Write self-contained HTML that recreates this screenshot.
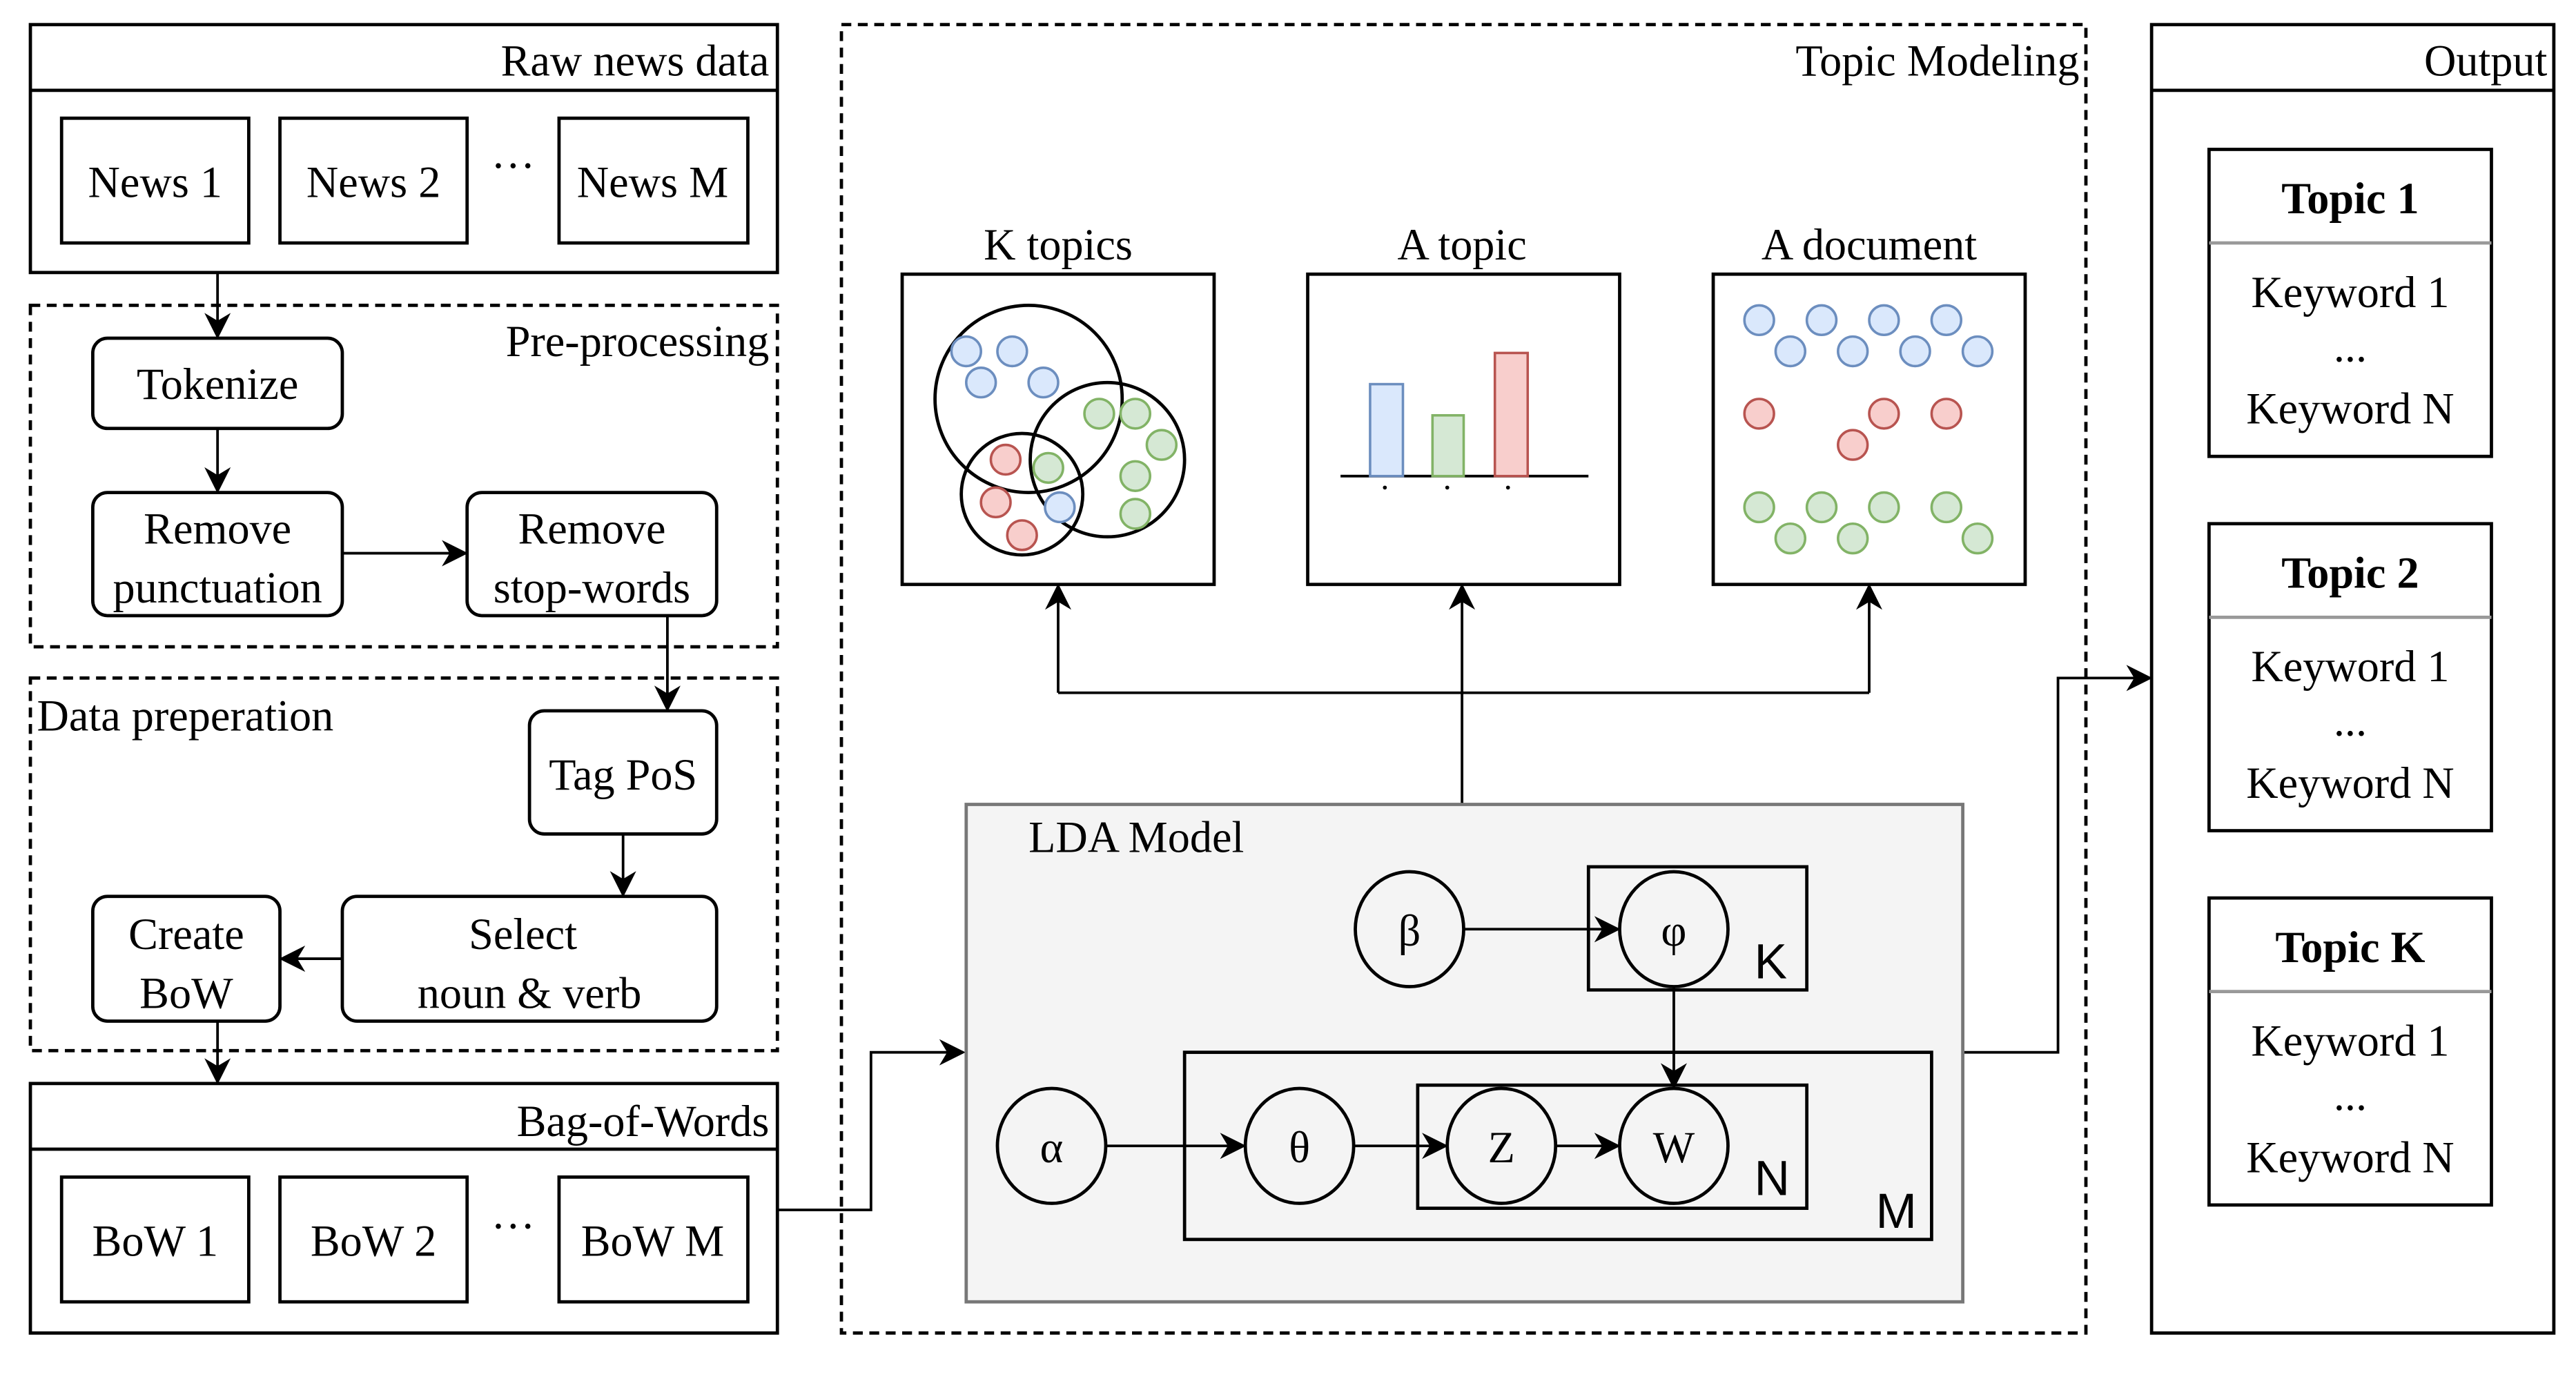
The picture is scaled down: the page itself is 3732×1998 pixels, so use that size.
<!DOCTYPE html>
<html><head><style>html,body{margin:0;padding:0;background:#fff}svg{display:block}
svg text{font-family:"Liberation Serif","Times New Roman",serif}
svg text.s{font-family:"Liberation Sans",Arial,sans-serif}</style></head>
<body>
<svg width="3732" height="1998" viewBox="0 0 1568 840" xmlns="http://www.w3.org/2000/svg" font-size="27">
<defs>
<marker id="b" viewBox="0 0 10 10" refX="9" refY="5" markerWidth="16" markerHeight="16" orient="auto" markerUnits="userSpaceOnUse"><path d="M0,0 L10,5 L0,10 L3,5 Z" fill="#000"/></marker>
</defs>
<g fill="none" stroke="#000" stroke-width="2">
<rect x="18" y="15" width="455" height="151"/><line x1="18" y1="55" x2="473" y2="55"/>
<rect x="37" y="72" width="114" height="76"/><rect x="170" y="72" width="114" height="76"/><rect x="340" y="72" width="115" height="76"/>
<rect x="18" y="186" width="455" height="208" stroke-dasharray="6,4"/>
<rect x="56" y="206" width="152" height="55" rx="9"/>
<rect x="56" y="300" width="152" height="75" rx="9"/>
<rect x="284" y="300" width="152" height="75" rx="9"/>
<rect x="18" y="413" width="455" height="227" stroke-dasharray="6,4"/>
<rect x="322" y="433" width="114" height="75" rx="9"/>
<rect x="208" y="546" width="228" height="76" rx="9"/>
<rect x="56" y="546" width="114" height="76" rx="9"/>
<rect x="18" y="660" width="455" height="152"/><line x1="18" y1="700" x2="473" y2="700"/>
<rect x="37" y="717" width="114" height="76"/><rect x="170" y="717" width="114" height="76"/><rect x="340" y="717" width="115" height="76"/>
<g marker-end="url(#b)" stroke-width="1.6">
<line x1="132" y1="166" x2="132" y2="205"/>
<line x1="132" y1="261" x2="132" y2="299"/>
<line x1="208" y1="337" x2="283" y2="337"/>
<line x1="406" y1="375" x2="406" y2="432"/>
<line x1="379" y1="508" x2="379" y2="545"/>
<line x1="208" y1="584" x2="171" y2="584"/>
<line x1="132" y1="622" x2="132" y2="659"/>
<polyline points="473,737 530,737 530,641 586,641"/>
<polyline points="1195,641 1253,641 1253,413 1309,413"/>
<line x1="890" y1="490" x2="890" y2="357"/>
<polyline points="644,422 644,357"/>
<polyline points="1138,422 1138,357"/>
</g>
<line x1="644" y1="422" x2="1138" y2="422" stroke-width="1.6"/>
<rect x="512" y="15" width="758" height="797" stroke-dasharray="6,4"/>
<rect x="549" y="167" width="190" height="189"/>
<rect x="796" y="167" width="190" height="189"/>
<rect x="1043" y="167" width="190" height="189"/>
<rect x="588" y="490" width="607" height="303" fill="#f4f4f4" stroke="#777"/>
<rect x="967" y="528" width="133" height="75"/>
<rect x="721" y="641" width="455" height="114"/>
<rect x="863" y="661" width="237" height="75"/>
<ellipse cx="858" cy="566" rx="33" ry="35"/>
<ellipse cx="1019" cy="566" rx="33" ry="35"/>
<ellipse cx="640" cy="698" rx="33" ry="35"/>
<ellipse cx="791" cy="698" rx="33" ry="35"/>
<ellipse cx="914" cy="698" rx="33" ry="35"/>
<ellipse cx="1019" cy="698" rx="33" ry="35"/>
<g marker-end="url(#b)" stroke-width="1.6">
<line x1="891" y1="566" x2="985" y2="566"/>
<line x1="1019" y1="601" x2="1019" y2="662"/>
<line x1="673" y1="698" x2="757" y2="698"/>
<line x1="824" y1="698" x2="880" y2="698"/>
<line x1="947" y1="698" x2="985" y2="698"/>
</g>
<rect x="1310" y="15" width="245" height="797"/><line x1="1310" y1="55" x2="1555" y2="55"/>
<rect x="1345" y="91" width="172" height="187"/><line x1="1345" y1="148" x2="1517" y2="148" stroke="#999"/>
<rect x="1345" y="319" width="172" height="187"/><line x1="1345" y1="376" x2="1517" y2="376" stroke="#999"/>
<rect x="1345" y="547" width="172" height="187"/><line x1="1345" y1="604" x2="1517" y2="604" stroke="#999"/>
<circle cx="626" cy="243" r="57"/><circle cx="674" cy="280" r="47"/><circle cx="622" cy="301" r="37"/>
<line x1="816" y1="290" x2="967" y2="290" stroke-width="1.6"/>
</g>
<g stroke-width="1.5">
<g fill="#dae8fc" stroke="#6c8ebf">
<circle cx="588" cy="214" r="9"/><circle cx="616" cy="214" r="9"/><circle cx="597" cy="233" r="9"/><circle cx="635" cy="233" r="9"/><circle cx="645" cy="309" r="9"/>
<rect x="834" y="234" width="20" height="56"/>
<circle cx="1071" cy="195" r="9"/><circle cx="1109" cy="195" r="9"/><circle cx="1147" cy="195" r="9"/><circle cx="1185" cy="195" r="9"/>
<circle cx="1090" cy="214" r="9"/><circle cx="1128" cy="214" r="9"/><circle cx="1166" cy="214" r="9"/><circle cx="1204" cy="214" r="9"/>
</g>
<g fill="#d5e8d4" stroke="#82b366">
<circle cx="669" cy="252" r="9"/><circle cx="691" cy="252" r="9"/><circle cx="707" cy="271" r="9"/><circle cx="691" cy="290" r="9"/><circle cx="691" cy="313" r="9"/><circle cx="638" cy="285" r="9"/>
<rect x="872" y="253" width="19" height="37"/>
<circle cx="1071" cy="309" r="9"/><circle cx="1109" cy="309" r="9"/><circle cx="1147" cy="309" r="9"/><circle cx="1185" cy="309" r="9"/>
<circle cx="1090" cy="328" r="9"/><circle cx="1128" cy="328" r="9"/><circle cx="1204" cy="328" r="9"/>
</g>
<g fill="#f8cecc" stroke="#b85450">
<circle cx="612" cy="280" r="9"/><circle cx="606" cy="306" r="9"/><circle cx="622" cy="326" r="9"/>
<rect x="910" y="215" width="20" height="75"/>
<circle cx="1071" cy="252" r="9"/><circle cx="1147" cy="252" r="9"/><circle cx="1185" cy="252" r="9"/><circle cx="1128" cy="271" r="9"/>
</g>
</g>
<g fill="#000"><circle cx="843" cy="297" r="1.2"/><circle cx="881" cy="297" r="1.2"/><circle cx="918" cy="297" r="1.2"/></g>
<g fill="#000">
<g text-anchor="end">
<text x="468" y="46">Raw news data</text>
<text x="468" y="217">Pre-processing</text>
<text x="468" y="692">Bag-of-Words</text>
<text x="1266" y="46">Topic Modeling</text>
<text x="1551" y="46">Output</text>
</g>
<text x="22" y="445">Data preperation</text>
<text x="626" y="519">LDA Model</text>
<g text-anchor="middle">
<text x="94" y="120">News 1</text><text x="227" y="120">News 2</text><text x="312" y="110">···</text><text x="397" y="120">News M</text>
<text x="132" y="243">Tokenize</text>
<text x="132" y="331">Remove</text><text x="132" y="367">punctuation</text>
<text x="360" y="331">Remove</text><text x="360" y="367">stop-words</text>
<text x="379" y="481">Tag PoS</text>
<text x="318" y="578">Select</text><text x="322" y="614">noun &amp; verb</text>
<text x="113" y="578">Create</text><text x="113" y="614">BoW</text>
<text x="94" y="765">BoW 1</text><text x="227" y="765">BoW 2</text><text x="312" y="756">···</text><text x="397" y="765">BoW M</text>
<text x="644" y="158">K topics</text><text x="890" y="158">A topic</text><text x="1138" y="158">A document</text>
<text x="858" y="576">β</text><text x="1019" y="576">φ</text>
<text x="640" y="708">α</text><text x="791" y="708">θ</text><text x="914" y="708">Z</text><text x="1019" y="708">W</text>
<g font-weight="bold"><text x="1431" y="130">Topic 1</text><text x="1431" y="358">Topic 2</text><text x="1431" y="586">Topic K</text></g>
<text x="1431" y="187">Keyword 1</text><text x="1431" y="220">...</text><text x="1431" y="258">Keyword N</text>
<text x="1431" y="415">Keyword 1</text><text x="1431" y="448">...</text><text x="1431" y="486">Keyword N</text>
<text x="1431" y="643">Keyword 1</text><text x="1431" y="676">...</text><text x="1431" y="714">Keyword N</text>
</g>
<g font-size="30">
<text class="s" x="1068" y="596">K</text><text class="s" x="1068" y="728">N</text><text class="s" x="1142" y="748">M</text>
</g>
</g>
</svg>
</body></html>
